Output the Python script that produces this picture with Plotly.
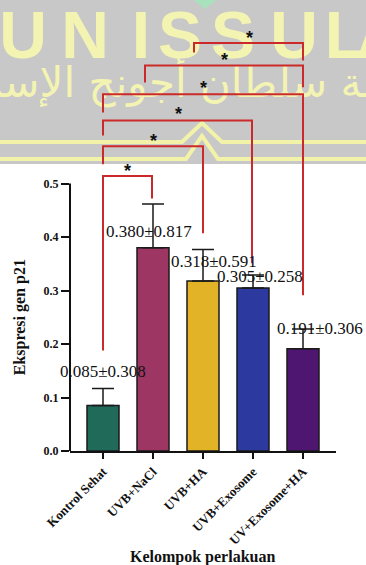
import plotly.graph_objects as go

# ---- data ----
categories = ["Kontrol Sehat", "UVB+NaCl", "UVB+HA", "UVB+Exosome", "UV+Exosome+HA"]
means = [0.085, 0.380, 0.318, 0.305, 0.191]
errors = [0.032, 0.082, 0.059, 0.024, 0.037]
value_labels = ["0.085±0.308", "0.380±0.817", "0.318±0.591", "0.305±0.258", "0.191±0.306"]
label_x = [0.0, 0.92, 2.22, 3.13, 4.34]
label_y = [0.148, 0.410, 0.355, 0.326, 0.230]
bar_colors = ["#1f6a58", "#9e3664", "#e2b326", "#2c3aa0", "#4e1670"]
y_ticks = [0.0, 0.1, 0.2, 0.3, 0.4, 0.5]

# significance brackets: left x, right x, top y, left-leg bottom, right-leg bottom, star x, star y
br_left = [1.82, 0.84, 0.0, 0.0, 0.0, 0.0]
br_right = [4.0, 4.0, 4.0, 2.98, 2.0, 0.98]
br_top = [0.763, 0.721, 0.667, 0.618, 0.570, 0.514]
br_lbot = [0.745, 0.689, 0.633, 0.590, 0.536, 0.188]
br_rbot = [0.73, 0.68, 0.291, 0.351, 0.407, 0.472]
star_x = [2.92, 2.42, 2.0, 1.5, 1.0, 0.48]
star_y = [0.779, 0.738, 0.686, 0.637, 0.588, 0.531]

# watermark (positions in page pixels)
wm_letters = ["U", "N", "I", "S", "S", "U", "L", "A"]
wm_letter_x = [23, 85, 141, 180, 233, 294, 345, 356]
wm_letter_y = [41] * 8
wm_letter_pos = ["middle center"] * 7 + ["middle right"]
wm_arabic = "جامعة سلطان أجونج الإسلامية"

W, H = 366, 565
PL, PR, PB = 70, 336, 451  # plot area (pixels)
Y_SCALE = 534.8            # pixels per unit


def fx(xp):
    return xp / W


def fy(yp):
    return 1 - yp / H


fig = go.Figure()

# watermark text on a full-page invisible subplot
fig.add_trace(go.Scatter(
    x=wm_letter_x, y=wm_letter_y, mode="text", text=wm_letters, textposition=wm_letter_pos,
    textfont=dict(family="Liberation Sans, Arial, sans-serif", size=66, color="#f4f4b2", weight="bold"),
    cliponaxis=False, hoverinfo="skip", showlegend=False, xaxis="x2", yaxis="y2"))
fig.add_trace(go.Scatter(
    x=[183], y=[86], mode="text", text=[wm_arabic],
    textfont=dict(family="DejaVu Sans", size=42, color="#f4f4b2"),
    cliponaxis=False, hoverinfo="skip", showlegend=False, xaxis="x2", yaxis="y2"))

fig.add_trace(go.Bar(
    x=list(range(len(categories))), y=means, width=0.64,
    marker=dict(color=bar_colors, line=dict(color="#1a1a1a", width=1.5)),
    error_y=dict(type="data", array=errors, arrayminus=[0] * len(errors),
                 symmetric=False, color="#1a1a1a", thickness=1.5, width=11),
    showlegend=False))

shapes = []
shapes.append(dict(type="rect", xref="paper", yref="paper",
                   x0=0, x1=1, y0=fy(164), y1=1,
                   fillcolor="#c8c8c8", line=dict(width=0), layer="below"))
for (yy, peak, half) in [(142, 123, 20), (159, 136, 16)]:
    shapes.append(dict(type="path", xref="paper", yref="paper", layer="below",
                       path=f"M {fx(0)},{fy(yy)} L {fx(202-half)},{fy(yy)} L {fx(202)},{fy(peak)} "
                            f"L {fx(202+half)},{fy(yy)} L {fx(W)},{fy(yy)}",
                       line=dict(color="#f2f2a8", width=4)))
shapes.append(dict(type="path", xref="paper", yref="paper", layer="below",
                   path=f"M {fx(194)},{fy(0)} L {fx(205)},{fy(9)} L {fx(216)},{fy(0)} Z",
                   fillcolor="#a8e2bc", line=dict(width=0)))
shapes.append(dict(type="line", xref="paper", yref="y", x0=fx(PL), x1=fx(PL), y0=0, y1=0.5,
                   line=dict(color="#111111", width=2)))
for l, r, t, lb, rb in zip(br_left, br_right, br_top, br_lbot, br_rbot):
    shapes.append(dict(type="path", xref="x", yref="y", layer="above",
                       path=f"M {l},{lb} L {l},{t} L {r},{t} L {r},{rb}",
                       line=dict(color="#cc2a2a", width=2)))

serif = "Liberation Serif, Times New Roman, Tinos, serif"
annotations = []
for sx, sy in zip(star_x, star_y):
    annotations.append(dict(x=sx, y=sy, xref="x", yref="y", text="*", showarrow=False,
                            font=dict(family="Liberation Sans, Arial, sans-serif", size=18,
                                      color="#111111", weight="bold"),
                            xanchor="center", yanchor="middle", yshift=-4))
for lx, ly, t in zip(label_x, label_y, value_labels):
    annotations.append(dict(x=lx, y=ly, xref="x", yref="y", text=t, showarrow=False,
                            font=dict(family=serif, size=17, color="#111111"),
                            xanchor="center", yanchor="middle"))
annotations.append(dict(x=fx(20), y=0.25, xref="paper", yref="y", text="Ekspresi gen p21",
                        textangle=-90, showarrow=False, xanchor="center", yanchor="middle",
                        font=dict(family=serif, size=16, color="#111111", weight="bold")))
annotations.append(dict(x=fx((PL + PR) / 2), y=fy(557), xref="paper", yref="paper",
                        text="Kelompok perlakuan", showarrow=False, xanchor="center", yanchor="middle",
                        font=dict(family=serif, size=16, color="#111111", weight="bold")))

fig.update_layout(
    width=W, height=H, autosize=False,
    margin=dict(l=0, r=0, t=0, b=0, pad=0, autoexpand=False),
    paper_bgcolor="white", plot_bgcolor="rgba(0,0,0,0)",
    shapes=shapes, annotations=annotations,
    xaxis=dict(domain=[fx(PL), fx(PR)], anchor="y", automargin=False,
               range=[-0.66, 4.66], tickvals=list(range(len(categories))), ticktext=categories,
               tickangle=-45, ticks="outside", ticklen=6, tickwidth=2, tickcolor="#111111",
               showline=True, linewidth=2, linecolor="#111111", showgrid=False, zeroline=False,
               tickfont=dict(family=serif, size=13, color="#111111", weight="bold")),
    yaxis=dict(domain=[1 - PB / H, 1], anchor="x", automargin=False,
               range=[0, PB / Y_SCALE], tickvals=y_ticks, tickformat=".1f",
               ticks="outside", ticklen=8, tickwidth=2, tickcolor="#111111",
               showline=False, showgrid=False, zeroline=False,
               tickfont=dict(family=serif, size=12, color="#111111", weight="bold")),
    xaxis2=dict(domain=[0, 1], anchor="y2", range=[0, W], visible=False, fixedrange=True,
                automargin=False),
    yaxis2=dict(domain=[0, 1], anchor="x2", range=[H, 0], visible=False, fixedrange=True,
                automargin=False),
)

fig.write_html("out.html", config={"displayModeBar": False},
               post_script="document.body.style.margin='0px';")
